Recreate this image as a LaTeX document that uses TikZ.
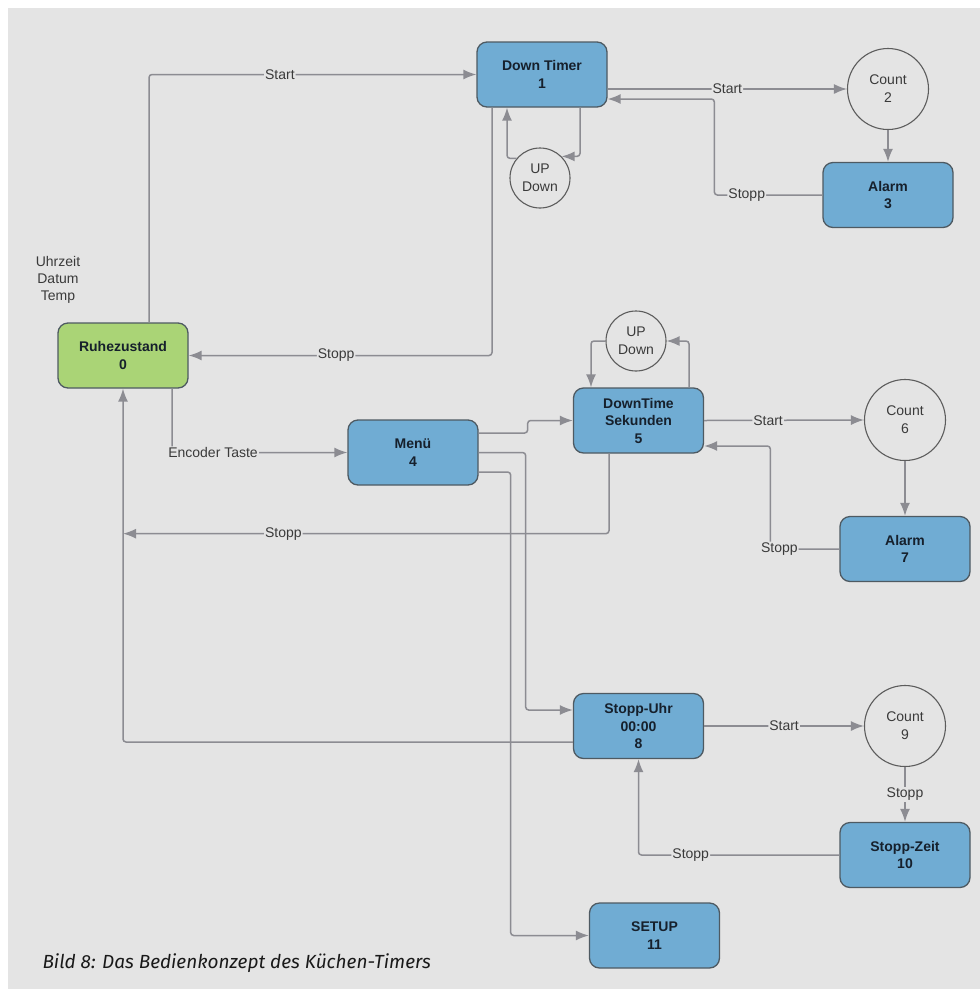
\documentclass[tikz,border=0pt]{standalone}
\usepackage{fontspec}
\setmainfont{Liberation Sans}
\newfontfamily\capfont{Fira Sans}
\usetikzlibrary{arrows.meta, calc}
\definecolor{bg}{RGB}{228,228,228}
\definecolor{boxblue}{RGB}{112,172,211}
\definecolor{idlegreen}{RGB}{170,212,118}
\definecolor{boxline}{RGB}{78,90,98}
\definecolor{circline}{RGB}{92,92,92}
\definecolor{wiregray}{RGB}{140,140,146}
\definecolor{boxtext}{RGB}{22,32,44}
\definecolor{lbltext}{RGB}{58,58,58}
\tikzstyle{block} = [draw=boxline, fill=boxblue, rounded corners=10pt, line width=1.3pt, minimum height=65pt, minimum width=130pt, align=center, text=boxtext, font=\fontsize{14}{17.5}\selectfont\bfseries]
\tikzstyle{idle} = [block, fill=idlegreen]
\tikzstyle{count} = [draw=circline, fill=bg, circle, line width=1.1pt, minimum size=81pt, align=center, text=lbltext, font=\fontsize{14}{18}\selectfont]
\tikzstyle{updown} = [count, minimum size=60pt]
\tikzstyle{lbl} = [fill=bg, inner sep=1pt, text=lbltext]
\tikzstyle{wire} = [draw=wiregray, line width=1.5pt, rounded corners=3pt]

\begin{document}
\begin{tikzpicture}[x=1pt, y=-1pt, >={Latex[length=13pt,width=10pt]}, font=\fontsize{14}{17}\selectfont]

\useasboundingbox (0,0) rectangle (980,989);
\fill[white] (0,0) rectangle (980,989);
\fill[bg] (8,8) rectangle (980,989);

\node [idle] (R0) at (123,355.5) {Ruhezustand\\0};
\node [block] (T1) at (542,74.5) {Down Timer\\1};
\node [count] (C2) at (888,89) {Count\\2};
\node [block] (A3) at (888,195) {Alarm\\3};
\node [updown] (UD1) at (540,178) {UP\\Down};
\node [block] (M4) at (413,452.5) {Menü\\4};
\node [block] (D5) at (638.5,420.5) {DownTime\\Sekunden\\5};
\node [updown] (UD2) at (636,341) {UP\\Down};
\node [count] (C6) at (905,420) {Count\\6};
\node [block] (A7) at (905,549) {Alarm\\7};
\node [block] (S8) at (638.5,726) {Stopp-Uhr\\00:00\\8};
\node [count] (C9) at (905,726) {Count\\9};
\node [block] (S10) at (905,855) {Stopp-Zeit\\10};
\node [block] (S11) at (654.5,935.5) {SETUP\\11};

\node [align=center, text=lbltext] (info) at (58,280) {Uhrzeit\\Datum\\Temp};
\node [anchor=base west, text=black!90, font=\capfont\itshape\fontsize{19}{22}\selectfont] (caption) at (39,968) {Bild 8: Das Bedienkonzept des Küchen-Timers};

\coordinate (j) at ($(R0.south)+(0,145)$);

\draw [wire, ->] ($(R0.north)+(26,0)$) |- node [lbl, pos=0.7] {Start} (T1.west);
\draw [wire, ->] ($(T1.south)+(-50,0)$) |- node [lbl, pos=0.757] {Stopp} (R0.east);
\draw [wire, ->] (T1.east |- C2.west) -- node [lbl] {Start} (C2.west);
\draw [wire, ->] (A3.west) -- node [lbl, pos=0.7] {Stopp} ++(-108,0) |- ($(T1.east)+(0,24.5)$);
\draw [wire, ->] (C2.south) -- (A3.north);
\draw [wire, ->] (UD1.140) -| ($(T1.south)+(-35,0)$);
\draw [wire, ->] ($(T1.south)+(38,0)$) |- (UD1.north east);

\draw [wire, ->] ($(R0.south)+(49,0)$) |- node [lbl, pos=0.617] {Encoder Taste} (M4.west);
\draw [wire, ->] ($(M4.east)+(0,-19.5)$) -- ++(49,0) |- (D5.west);
\draw [wire, ->] (M4.east) -- ++(47,0) |- ($(S8.west)+(0,-16)$);
\draw [wire, ->] ($(M4.east)+(0,19.5)$) -- ++(32,0) |- (S11.west);
\draw [wire, ->] ($(D5.south)+(-29.5,0)$) |- node [lbl, pos=0.835] {Stopp} (j);
\draw [wire, ->] ($(S8.west)+(0,16)$) -| (R0.south);

\draw [wire, ->] (UD2.west) -| ($(D5.north)+(-47.5,0)$);
\draw [wire, ->] ($(D5.north)+(50.5,0)$) |- (UD2.east);
\draw [wire, ->] (D5.east) -- node [lbl, pos=0.4] {Start} (C6.west);
\draw [wire, ->] (A7.west) -- node [lbl, pos=0.87] {Stopp} ++(-69,0) |- ($(D5.east)+(0,25.5)$);
\draw [wire, ->] (C6.south) -- (A7.north);

\draw [wire, ->] (S8.east) -- node [lbl] {Start} (C9.west);
\draw [wire, ->] (C9.south) -- node [lbl] {Stopp} (S10.north);
\draw [wire, ->] (S10.west) -| node [lbl, pos=0.37] {Stopp} (S8.south);

\end{tikzpicture}
\end{document}
